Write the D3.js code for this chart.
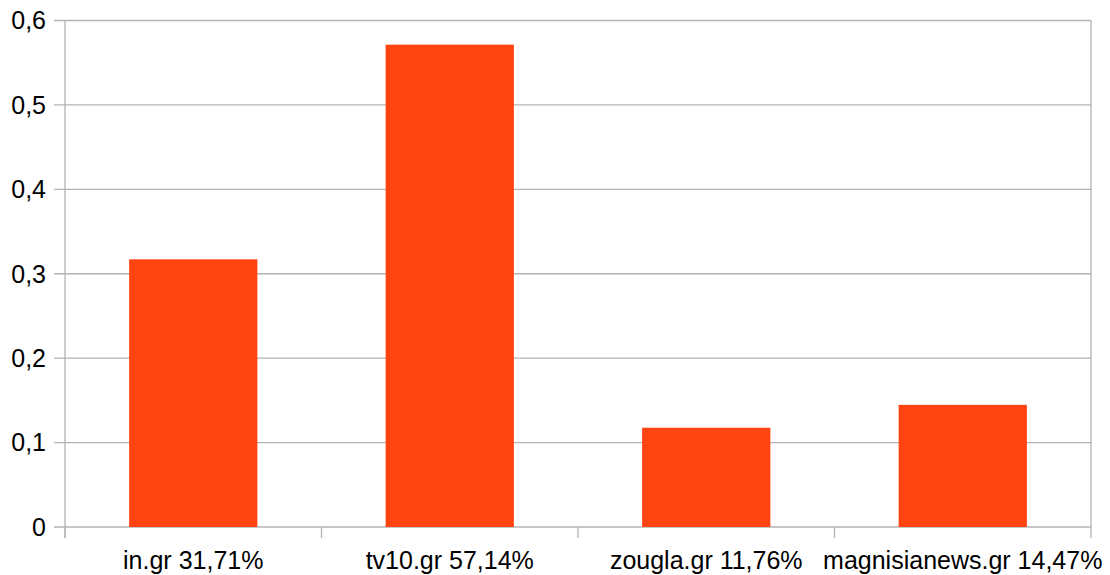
<!DOCTYPE html>
<html><head><meta charset="utf-8">
<script src="https://cdn.jsdelivr.net/npm/d3@7"></script>
<style>body{margin:0;background:#fff}svg{display:block}</style>
</head><body>
<svg id="c" width="1110" height="575"></svg>
<script>
const categories = ["in.gr 31,71%", "tv10.gr 57,14%", "zougla.gr 11,76%", "magnisianews.gr 14,47%"];
const values = [0.3171, 0.5714, 0.1176, 0.1447];
const yTicks = [0, 0.1, 0.2, 0.3, 0.4, 0.5, 0.6];

const svg = d3.select("#c");
const m = {l: 65, r: 1091, t: 20.5, b: 527};
const x = d3.scaleBand().domain(categories).range([m.l, m.r]).paddingInner(0.5).paddingOuter(0.25);
const xb = d3.scaleBand().domain(categories).range([m.l, m.r]);
const y = d3.scaleLinear().domain([0, 0.6]).range([m.b, m.t]);
const fmt = d => d3.format(".1f")(d).replace(".", ",").replace(/^0,0$/, "0");
const font = "'Liberation Sans', Arial, sans-serif";
const grid = "#b3b3b3";

// gridlines
svg.append("g").selectAll("line").data(yTicks).join("line")
  .attr("x1", m.l - 11).attr("x2", m.r)
  .attr("y1", d => y(d)).attr("y2", d => y(d))
  .attr("stroke", grid).attr("stroke-width", 1.3);
// right border
svg.append("line").attr("x1", m.r).attr("x2", m.r).attr("y1", m.t).attr("y2", m.b)
  .attr("stroke", grid).attr("stroke-width", 1.3);
// left axis
svg.append("line").attr("x1", m.l).attr("x2", m.l).attr("y1", m.t).attr("y2", m.b + 11)
  .attr("stroke", grid).attr("stroke-width", 1.3);
// category ticks
const bounds = categories.map(c => xb(c)).concat([m.r]);
svg.append("g").selectAll("line").data(bounds).join("line")
  .attr("x1", d => d).attr("x2", d => d).attr("y1", m.b).attr("y2", m.b + 11)
  .attr("stroke", grid).attr("stroke-width", 1.3);

// bars
svg.append("g").selectAll("rect").data(values).join("rect")
  .attr("x", (d, i) => x(categories[i]))
  .attr("width", x.bandwidth())
  .attr("y", d => y(d))
  .attr("height", d => y(0) - y(d))
  .attr("fill", "#ff4411");

// y labels
svg.append("g").selectAll("text").data(yTicks).join("text")
  .attr("x", 46).attr("y", d => y(d)).attr("dy", "0.35em")
  .attr("text-anchor", "end").attr("font-family", font).attr("font-size", 25)
  .attr("fill", "#000").text(fmt);

// x labels
svg.append("g").selectAll("text").data(categories).join("text")
  .attr("x", d => xb(d) + xb.bandwidth() / 2).attr("y", 569)
  .attr("text-anchor", "middle").attr("font-family", font).attr("font-size", 25)
  .attr("fill", "#000").text(d => d);
</script>
</body></html>
